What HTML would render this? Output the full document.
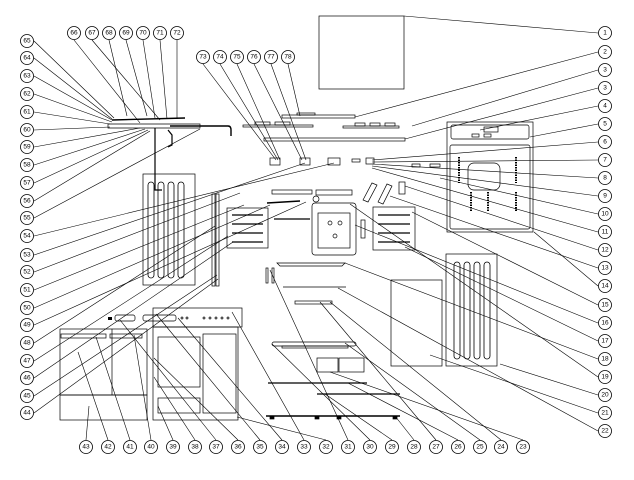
<!DOCTYPE html>
<html><head><meta charset="utf-8"><style>
html,body{margin:0;padding:0;background:#fff;width:634px;height:480px;overflow:hidden}
svg text{font-family:"Liberation Sans",sans-serif;font-size:6.5px;text-anchor:middle;dominant-baseline:central}
</style></head><body>
<svg width="634" height="480" viewBox="0 0 634 480" xmlns="http://www.w3.org/2000/svg" fill="none" stroke="#000" stroke-width="0.7">
<g stroke-width="0.6">
<line x1="598" y1="33" x2="404" y2="16"/>
<line x1="598" y1="52" x2="355" y2="117"/>
<line x1="598" y1="70" x2="412" y2="126"/>
<line x1="598" y1="88" x2="405" y2="139"/>
<line x1="598" y1="106" x2="480" y2="130"/>
<line x1="598" y1="124" x2="530" y2="137"/>
<line x1="598" y1="142" x2="372" y2="160"/>
<line x1="598" y1="160" x2="372" y2="162"/>
<line x1="598" y1="178" x2="372" y2="164"/>
<line x1="598" y1="196" x2="372" y2="166"/>
<line x1="598" y1="214" x2="440" y2="178"/>
<line x1="598" y1="232" x2="372" y2="168"/>
<line x1="598" y1="250" x2="405" y2="186"/>
<line x1="598" y1="268" x2="390" y2="196"/>
<line x1="598" y1="286" x2="534" y2="232"/>
<line x1="598" y1="305" x2="412" y2="212"/>
<line x1="598" y1="323" x2="355" y2="225"/>
<line x1="598" y1="341" x2="405" y2="247"/>
<line x1="598" y1="359" x2="345" y2="263"/>
<line x1="598" y1="377" x2="350" y2="204"/>
<line x1="598" y1="395" x2="500" y2="364"/>
<line x1="598" y1="413" x2="430" y2="355"/>
<line x1="598" y1="431" x2="338" y2="288"/>
<line x1="523" y1="440" x2="330" y2="372"/>
<line x1="501" y1="440" x2="330" y2="302"/>
<line x1="480" y1="440" x2="345" y2="343"/>
<line x1="458" y1="440" x2="348" y2="383"/>
<line x1="436" y1="440" x2="320" y2="302"/>
<line x1="414" y1="440" x2="395" y2="416"/>
<line x1="392" y1="440" x2="325" y2="394"/>
<line x1="370" y1="440" x2="272" y2="344"/>
<line x1="348" y1="440" x2="270" y2="270"/>
<line x1="326" y1="440" x2="237" y2="417"/>
<line x1="304" y1="440" x2="232" y2="312"/>
<line x1="282" y1="440" x2="178" y2="318"/>
<line x1="260" y1="440" x2="156" y2="314"/>
<line x1="238" y1="440" x2="154" y2="358"/>
<line x1="216" y1="440" x2="120" y2="320"/>
<line x1="195" y1="440" x2="154" y2="377"/>
<line x1="173" y1="440" x2="158" y2="406"/>
<line x1="151" y1="440" x2="134" y2="335"/>
<line x1="130" y1="440" x2="96" y2="337"/>
<line x1="108" y1="440" x2="78" y2="352"/>
<line x1="86" y1="440" x2="89" y2="406"/>
<line x1="34" y1="413" x2="218" y2="279"/>
<line x1="34" y1="396" x2="217" y2="275"/>
<line x1="34" y1="378" x2="233" y2="242"/>
<line x1="34" y1="361" x2="228" y2="236"/>
<line x1="34" y1="343" x2="215" y2="226"/>
<line x1="34" y1="325" x2="306" y2="202"/>
<line x1="34" y1="308" x2="270" y2="205"/>
<line x1="34" y1="290" x2="244" y2="205"/>
<line x1="34" y1="272" x2="240" y2="193"/>
<line x1="34" y1="255" x2="305" y2="163"/>
<line x1="34" y1="236" x2="334" y2="163"/>
<line x1="34" y1="218" x2="200" y2="129"/>
<line x1="34" y1="201" x2="150" y2="131"/>
<line x1="34" y1="183" x2="148" y2="130"/>
<line x1="34" y1="165" x2="145" y2="129"/>
<line x1="34" y1="147" x2="140" y2="128"/>
<line x1="34" y1="130" x2="110" y2="127"/>
<line x1="34" y1="112" x2="110" y2="124"/>
<line x1="34" y1="94" x2="112" y2="122"/>
<line x1="34" y1="76" x2="112" y2="120"/>
<line x1="34" y1="58" x2="112" y2="119"/>
<line x1="34" y1="41" x2="114" y2="118"/>
<line x1="74" y1="40" x2="140" y2="123"/>
<line x1="92" y1="40" x2="160" y2="120"/>
<line x1="109" y1="40" x2="127" y2="116"/>
<line x1="126" y1="40" x2="147" y2="116"/>
<line x1="143" y1="40" x2="155" y2="118"/>
<line x1="160" y1="40" x2="167" y2="119"/>
<line x1="177" y1="40" x2="177" y2="119"/>
<line x1="203" y1="64" x2="276" y2="160"/>
<line x1="220" y1="64" x2="278" y2="160"/>
<line x1="237" y1="64" x2="280" y2="160"/>
<line x1="254" y1="64" x2="302" y2="160"/>
<line x1="271" y1="64" x2="306" y2="160"/>
<line x1="288" y1="64" x2="300" y2="116"/>
</g>
<rect x="319" y="16" width="85" height="73"/>
<rect x="282" y="115" width="73" height="3"/><rect x="297" y="113" width="18" height="2"/>
<rect x="243" y="125" width="70" height="2"/><rect x="255" y="122" width="15" height="3"/><rect x="275" y="122" width="15" height="3"/>
<rect x="343" y="126" width="56" height="2"/><rect x="355" y="123" width="10" height="3"/><rect x="370" y="123" width="10" height="3"/><rect x="385" y="123" width="10" height="3"/>
<rect x="264" y="138" width="141" height="3"/>
<rect x="270" y="158" width="10" height="7"/><rect x="300" y="158" width="10" height="7"/><rect x="328" y="158" width="12" height="7"/><rect x="352" y="159" width="8" height="3"/><rect x="366" y="158" width="8" height="6"/>
<rect x="412" y="164" width="8" height="3"/><rect x="430" y="164" width="10" height="3"/>
<path d="M108 124 H200 V128 H108 Z"/><path d="M112 120 L185 118" stroke-width="1.4"/><path d="M170 126 H228 Q231 126 231 130 V136" stroke-width="1.4"/><path d="M155 128 V190 H162" stroke-width="1.2"/><path d="M168 130 L172 135 V145 L168 147" stroke-width="1.2"/>
<rect x="143" y="174" width="52" height="111"/>
<g stroke-width="0.8"><rect x="148" y="182" width="6" height="96" rx="3"/><rect x="158" y="182" width="6" height="96" rx="3"/><rect x="168" y="182" width="6" height="96" rx="3"/><rect x="178" y="182" width="6" height="96" rx="3"/></g>
<rect x="212" y="194" width="3" height="92"/><rect x="216" y="194" width="3" height="92"/>
<rect x="227" y="208" width="41" height="40"/>
<g stroke-width="1.3"><path d="M232 215 H263"/><path d="M232 224 H263"/><path d="M232 233 H263"/><path d="M232 242 H263"/></g>
<rect x="272" y="190" width="40" height="4"/><path d="M267 203 L300 201" stroke-width="1.5"/><path d="M274 219 H310" stroke-width="1.2"/>
<rect x="316" y="190" width="36" height="5"/>
<rect x="312" y="203" width="44" height="52" rx="3"/><rect x="318" y="213" width="32" height="35"/><circle cx="330" cy="223" r="2"/><circle cx="340" cy="223" r="2"/><circle cx="335" cy="236" r="2"/><circle cx="316" cy="199" r="3"/>
<rect x="361" y="220" width="4" height="18"/>
<path d="M363 200 L372 183 L377 185 L368 202 Z"/><path d="M378 202 L387 184 L392 186 L383 204 Z"/><rect x="399" y="182" width="6" height="12"/>
<rect x="373" y="207" width="42" height="43"/>
<g stroke-width="1.3"><path d="M378 215 H410"/><path d="M378 224 H410"/><path d="M378 233 H410"/><path d="M378 242 H410"/></g>
<rect x="447" y="122" width="86" height="110"/><rect x="451" y="125" width="78" height="14" rx="2"/><rect x="484" y="127" width="14" height="5"/><rect x="472" y="134" width="7" height="3"/><rect x="484" y="134" width="7" height="3"/>
<rect x="450" y="145" width="80" height="84" rx="2"/><rect x="468" y="163" width="32" height="27" rx="6"/>
<g stroke-width="2" stroke-dasharray="1.5 1"><path d="M459 157 V183"/><path d="M516 157 V183"/><path d="M471 192 V212"/><path d="M488 192 V212"/><path d="M516 192 V212"/></g>
<rect x="446" y="254" width="51" height="112"/>
<g stroke-width="0.8"><rect x="454" y="262" width="6" height="97" rx="3"/><rect x="464" y="262" width="6" height="97" rx="3"/><rect x="474" y="262" width="6" height="97" rx="3"/><rect x="484" y="262" width="6" height="97" rx="3"/></g>
<rect x="391" y="280" width="51" height="86"/>
<path d="M277 263 H345 L342 266 H280 Z"/><rect x="266" y="268" width="2" height="15"/><rect x="272" y="268" width="2" height="15"/>
<path d="M283 287 H346"/>
<rect x="295" y="301" width="37" height="3"/>
<rect x="272" y="342" width="84" height="4" rx="2"/><rect x="282" y="346" width="66" height="2"/>
<rect x="317" y="358" width="21" height="14"/><rect x="339" y="358" width="25" height="14"/>
<path d="M268 383 H367" stroke-width="1.2"/><path d="M317 394 H400" stroke-width="1.2"/><path d="M266 416 H400" stroke-width="1.5"/>
<rect x="270" y="416" width="4" height="3" fill="#000"/><rect x="315" y="416" width="4" height="3" fill="#000"/><rect x="337" y="416" width="4" height="3" fill="#000"/><rect x="393" y="416" width="4" height="3" fill="#000"/>
<rect x="60" y="329" width="87" height="66"/><path d="M112 329 V395"/><rect x="61" y="334" width="45" height="4"/><rect x="110" y="334" width="32" height="4"/>
<rect x="60" y="395" width="87" height="25"/>
<rect x="153" y="308" width="89" height="19"/>
<rect x="153" y="327" width="85" height="93"/><rect x="158" y="337" width="42" height="50"/><rect x="203" y="334" width="33" height="79"/><rect x="158" y="398" width="42" height="15"/>
<g fill="#000" stroke="none"><rect x="108" y="317" width="4" height="3"/></g>
<rect x="115" y="315" width="20" height="6" rx="2"/><rect x="143" y="315" width="33" height="6" rx="2"/>
<g>
<circle cx="182" cy="318" r="1"/><circle cx="187" cy="318" r="1"/><circle cx="204" cy="318" r="1"/><circle cx="210" cy="318" r="1"/><circle cx="216" cy="318" r="1"/><circle cx="222" cy="318" r="1"/><circle cx="228" cy="318" r="1"/>
</g>
<g fill="#fff" stroke-width="0.8">
<circle cx="605" cy="33" r="6.5"/><circle cx="605" cy="52" r="6.5"/><circle cx="605" cy="70" r="6.5"/><circle cx="605" cy="88" r="6.5"/><circle cx="605" cy="106" r="6.5"/><circle cx="605" cy="124" r="6.5"/><circle cx="605" cy="142" r="6.5"/><circle cx="605" cy="160" r="6.5"/><circle cx="605" cy="178" r="6.5"/><circle cx="605" cy="196" r="6.5"/><circle cx="605" cy="214" r="6.5"/><circle cx="605" cy="232" r="6.5"/><circle cx="605" cy="250" r="6.5"/><circle cx="605" cy="268" r="6.5"/><circle cx="605" cy="286" r="6.5"/><circle cx="605" cy="305" r="6.5"/><circle cx="605" cy="323" r="6.5"/><circle cx="605" cy="341" r="6.5"/><circle cx="605" cy="359" r="6.5"/><circle cx="605" cy="377" r="6.5"/><circle cx="605" cy="395" r="6.5"/><circle cx="605" cy="413" r="6.5"/><circle cx="605" cy="431" r="6.5"/>
<circle cx="523" cy="447" r="6.5"/><circle cx="501" cy="447" r="6.5"/><circle cx="480" cy="447" r="6.5"/><circle cx="458" cy="447" r="6.5"/><circle cx="436" cy="447" r="6.5"/><circle cx="414" cy="447" r="6.5"/><circle cx="392" cy="447" r="6.5"/><circle cx="370" cy="447" r="6.5"/><circle cx="348" cy="447" r="6.5"/><circle cx="326" cy="447" r="6.5"/><circle cx="304" cy="447" r="6.5"/><circle cx="282" cy="447" r="6.5"/><circle cx="260" cy="447" r="6.5"/><circle cx="238" cy="447" r="6.5"/><circle cx="216" cy="447" r="6.5"/><circle cx="195" cy="447" r="6.5"/><circle cx="173" cy="447" r="6.5"/><circle cx="151" cy="447" r="6.5"/><circle cx="130" cy="447" r="6.5"/><circle cx="108" cy="447" r="6.5"/><circle cx="86" cy="447" r="6.5"/>
<circle cx="27" cy="413" r="6.5"/><circle cx="27" cy="396" r="6.5"/><circle cx="27" cy="378" r="6.5"/><circle cx="27" cy="361" r="6.5"/><circle cx="27" cy="343" r="6.5"/><circle cx="27" cy="325" r="6.5"/><circle cx="27" cy="308" r="6.5"/><circle cx="27" cy="290" r="6.5"/><circle cx="27" cy="272" r="6.5"/><circle cx="27" cy="255" r="6.5"/><circle cx="27" cy="236" r="6.5"/><circle cx="27" cy="218" r="6.5"/><circle cx="27" cy="201" r="6.5"/><circle cx="27" cy="183" r="6.5"/><circle cx="27" cy="165" r="6.5"/><circle cx="27" cy="147" r="6.5"/><circle cx="27" cy="130" r="6.5"/><circle cx="27" cy="112" r="6.5"/><circle cx="27" cy="94" r="6.5"/><circle cx="27" cy="76" r="6.5"/><circle cx="27" cy="58" r="6.5"/><circle cx="27" cy="41" r="6.5"/>
<circle cx="74" cy="33" r="6.5"/><circle cx="92" cy="33" r="6.5"/><circle cx="109" cy="33" r="6.5"/><circle cx="126" cy="33" r="6.5"/><circle cx="143" cy="33" r="6.5"/><circle cx="160" cy="33" r="6.5"/><circle cx="177" cy="33" r="6.5"/>
<circle cx="203" cy="57" r="6.5"/><circle cx="220" cy="57" r="6.5"/><circle cx="237" cy="57" r="6.5"/><circle cx="254" cy="57" r="6.5"/><circle cx="271" cy="57" r="6.5"/><circle cx="288" cy="57" r="6.5"/>
</g>
<g fill="#000" stroke="none">
<text x="605" y="33">1</text><text x="605" y="52">2</text><text x="605" y="70">3</text><text x="605" y="88">3</text><text x="605" y="106">4</text><text x="605" y="124">5</text><text x="605" y="142">6</text><text x="605" y="160">7</text><text x="605" y="178">8</text><text x="605" y="196">9</text><text x="605" y="214">10</text><text x="605" y="232">11</text><text x="605" y="250">12</text><text x="605" y="268">13</text><text x="605" y="286">14</text><text x="605" y="305">15</text><text x="605" y="323">16</text><text x="605" y="341">17</text><text x="605" y="359">18</text><text x="605" y="377">19</text><text x="605" y="395">20</text><text x="605" y="413">21</text><text x="605" y="431">22</text>
<text x="523" y="447">23</text><text x="501" y="447">24</text><text x="480" y="447">25</text><text x="458" y="447">26</text><text x="436" y="447">27</text><text x="414" y="447">28</text><text x="392" y="447">29</text><text x="370" y="447">30</text><text x="348" y="447">31</text><text x="326" y="447">32</text><text x="304" y="447">33</text><text x="282" y="447">34</text><text x="260" y="447">35</text><text x="238" y="447">36</text><text x="216" y="447">37</text><text x="195" y="447">38</text><text x="173" y="447">39</text><text x="151" y="447">40</text><text x="130" y="447">41</text><text x="108" y="447">42</text><text x="86" y="447">43</text>
<text x="27" y="413">44</text><text x="27" y="396">45</text><text x="27" y="378">46</text><text x="27" y="361">47</text><text x="27" y="343">48</text><text x="27" y="325">49</text><text x="27" y="308">50</text><text x="27" y="290">51</text><text x="27" y="272">52</text><text x="27" y="255">53</text><text x="27" y="236">54</text><text x="27" y="218">55</text><text x="27" y="201">56</text><text x="27" y="183">57</text><text x="27" y="165">58</text><text x="27" y="147">59</text><text x="27" y="130">60</text><text x="27" y="112">61</text><text x="27" y="94">62</text><text x="27" y="76">63</text><text x="27" y="58">64</text><text x="27" y="41">65</text>
<text x="74" y="33">66</text><text x="92" y="33">67</text><text x="109" y="33">68</text><text x="126" y="33">69</text><text x="143" y="33">70</text><text x="160" y="33">71</text><text x="177" y="33">72</text>
<text x="203" y="57">73</text><text x="220" y="57">74</text><text x="237" y="57">75</text><text x="254" y="57">76</text><text x="271" y="57">77</text><text x="288" y="57">78</text>
</g>
</svg>
</body></html>
